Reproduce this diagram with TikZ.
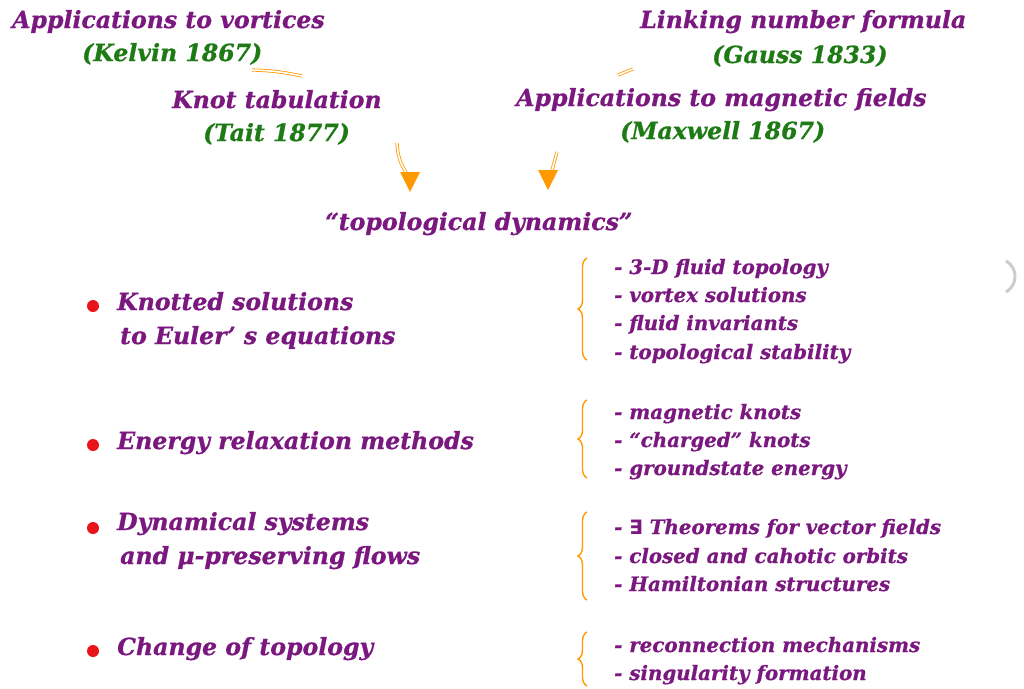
\documentclass[tikz,border=0pt]{standalone}
\usepackage{fontspec}
\setmainfont{DejaVu Serif}[BoldItalicFeatures={FakeBold=0.8}]
\newfontfamily\symfont{DejaVu Sans}
\usetikzlibrary{arrows.meta}
\usetikzlibrary{decorations.pathreplacing}
\definecolor{plum}{RGB}{122,24,128}
\definecolor{leaf}{RGB}{30,122,20}
\definecolor{amber}{RGB}{255,153,0}
\definecolor{dotred}{RGB}{232,20,26}
\tikzset{
  head/.style={anchor=base west, inner sep=0pt, text=plum, font=\fontsize{23.6}{28}\selectfont\bfseries\itshape},
  cite/.style={anchor=base west, inner sep=0pt, text=leaf, font=\fontsize{23.6}{28}\selectfont\bfseries\itshape},
  item/.style={anchor=base west, inner sep=0pt, text=plum, font=\fontsize{23.6}{28}\selectfont\bfseries\itshape},
  sub/.style={anchor=base west, inner sep=0pt, text=plum, font=\fontsize{19.8}{24}\selectfont\bfseries\itshape},
  bullet/.style={circle, fill=dotred, inner sep=0pt, minimum size=12pt},
  curly/.style={amber, line width=1.4pt, decorate, decoration={brace, amplitude=9pt}},
  flow/.style={amber, line width=0.8pt, double=white, double distance=1.6pt}
}
\begin{document}
\begin{tikzpicture}[x=1pt,y=-1pt]
  \useasboundingbox (0,0) rectangle (1024,688);

  % history
  \node[head] (vort) at (12,28) {Applications to vortices};
  \node[cite] (kelvin) at (82,61) {(Kelvin 1867)};
  \node[head] (tab) at (172,108) {Knot tabulation};
  \node[cite] (tait) at (203,141) {(Tait 1877)};
  \node[head] (link) at (640,28) {Linking number formula};
  \node[cite] (gauss) at (712,63) {(Gauss 1833)};
  \node[head] (mag) at (516,106) {Applications to magnetic fields};
  \node[cite] (maxwell) at (620,139) {(Maxwell 1867)};
  \node[head] (topdyn) at (325,230) {“topological dynamics”};

  % faint strokes and arrows
  \coordinate (k1) at (252,70);
  \coordinate (k2) at (302,76);
  \coordinate (g1) at (618,75);
  \coordinate (g2) at (633,69);
  \draw[flow] (k1) to[bend left=5] (k2);
  \draw[flow] (g1) -- (g2);
  \coordinate (a1) at (397,143);
  \coordinate (a3) at (407,174);
  \coordinate (a2) at (410,192);
  \coordinate (b1) at (557,152);
  \coordinate (b3) at (551,174);
  \coordinate (b2) at (548,190);
  \draw[flow] (a1) to[bend right=15] (a3);
  \fill[amber] (a2) -- ++(-10,-20) -- ++(20,0) -- cycle;
  \draw[flow] (b1) -- (b3);
  \fill[amber] (b2) -- ++(-10,-20) -- ++(20,0) -- cycle;

  % topics
  \node[bullet] (d1) at (93,306) {};
  \node[item] (knot) at (117,310) {Knotted solutions};
  \node[item] (euler) at (120,344) {to Euler’ s equations};
  \node[bullet] (d2) at (93,445) {};
  \node[item] (relax) at (117,449) {Energy relaxation methods};
  \node[bullet] (d3) at (93,528) {};
  \node[item] (dyn) at (117,530) {Dynamical systems};
  \node[item] (flows) at (120,564) {and μ-preserving flows};
  \node[bullet] (d4) at (93,651) {};
  \node[item] (change) at (117,655) {Change of topology};

  % braces
  \draw[curly] (587,360) -- (587,258);
  \draw[curly] (587,478) -- (587,400);
  \draw[curly] (587,600) -- (587,512);
  \draw[curly] (587,686) -- (587,632);

  % sub topics
  \node[sub] at (614,274) {- 3-D fluid topology};
  \node[sub] at (614,302) {- vortex solutions};
  \node[sub] at (614,330) {- fluid invariants};
  \node[sub] at (614,359) {- topological stability};
  \node[sub] at (614,419) {- magnetic knots};
  \node[sub] at (614,447) {- “charged” knots};
  \node[sub] at (614,475) {- groundstate energy};
  \node[sub] at (614,534) {- {\symfont ∃} Theorems for vector fields};
  \node[sub] at (614,563) {- closed and cahotic orbits};
  \node[sub] at (614,591) {- Hamiltonian structures};
  \node[sub] at (614,652) {- reconnection mechanisms};
  \node[sub] at (614,680) {- singularity formation};

  % edge mark
  \draw[black!20, line width=3pt] (1006,292) arc[start angle=60, end angle=-60, radius=18];
\end{tikzpicture}
\end{document}
